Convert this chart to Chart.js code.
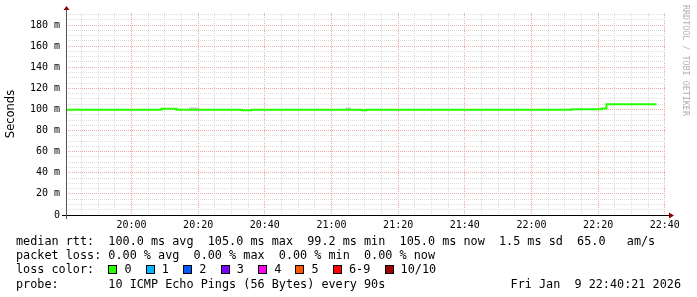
<!DOCTYPE html>
<html>
<head>
<meta charset="utf-8">
<script src="https://cdn.jsdelivr.net/npm/chart.js@4/dist/chart.umd.min.js"></script>
<style>
  html, body { margin: 0; padding: 0; background: #fff; }
  #wrap { position: relative; width: 697px; height: 297px; overflow: hidden; }
  #chart { position: absolute; left: 0; top: 0; }
  .row {
    position: absolute; left: 16px; white-space: pre;
    font-family: 'DejaVu Sans Mono', monospace; font-size: 11.8px;
    line-height: 14px; color: #000;
  }
  .box {
    display: inline-block; width: 7px; height: 7px; border: 1px solid #000;
    vertical-align: -1px;
  }
  #stamp { left: auto; right: 16px; }
  #watermark {
    position: absolute; left: 681px; top: 5px; writing-mode: vertical-rl;
    font-family: 'DejaVu Sans Mono', monospace; font-size: 8.4px;
    color: #b0b0b0; white-space: pre; line-height: 10px;
  }
</style>
</head>
<body>
<div id="wrap">
  <canvas id="chart" width="697" height="297"></canvas>
  <div id="watermark">RRDTOOL / TOBI OETIKER</div>
  <div class="row" style="top:234px">median rtt:  100.0 ms avg  105.0 ms max  99.2 ms min  105.0 ms now  1.5 ms sd  65.0   am/s</div>
  <div class="row" style="top:248px">packet loss: 0.00 % avg  0.00 % max  0.00 % min  0.00 % now</div>
  <div class="row" id="lossRow" style="top:262px"></div>
  <div class="row" style="top:277px">probe:       10 ICMP Echo Pings (56 Bytes) every 90s</div>
  <div class="row" id="stamp" style="top:277px">Fri Jan  9 22:40:21 2026</div>
</div>
<script>
// time window of the graph
const startTime = '19:40:21';
const endTime = '22:40:21';

// median rtt (ms), step changes every 90s sample
const medianTimes = ['19:40:21', '20:09:00', '20:13:30', '20:33:00', '20:36:00', '21:09:00',
                     '21:10:30', '22:12:00', '22:21:00', '22:22:30', '22:37:30'];
const medianValues = [99.7, 100.6, 99.7, 99.2, 99.7, 99.2, 99.7, 100.3, 101.0, 105.0, 105.0];

// smoke (spread of pings) poking above the median line
const smokeTimes = ['20:17:18', '20:20:18', '20:20:19', '21:04:18', '21:05:48'];
const smokeValues = [100.8, 100.8, null, 100.8, 100.8];

// y axis
const yMax = 191.4;
const yStep = 5;
const yLabelEvery = 20;
const xStep = 5;
const xLabelEvery = 20;

// loss colour legend
const lossLabels = ['0', '1', '2', '3', '4', '5', '6-9', '10/10'];
const lossColors = ['#26ff00', '#00b8ff', '#0059ff', '#7e00ff', '#ff00ea', '#ff5500', '#ff0000', '#a10000'];

function toMin(s) {
    const [h, m, sec] = s.split(':').map(Number);
    return h * 60 + m + (sec || 0) / 60;
}
function fmtTime(v) {
    const h = Math.floor(v / 60), m = Math.round(v % 60);
    return String(h).padStart(2, '0') + ':' + String(m).padStart(2, '0');
}

// loss colour row
const lossRow = document.getElementById('lossRow');
lossRow.appendChild(document.createTextNode('loss color:  '));
lossLabels.forEach((lab, i) => {
    const b = document.createElement('span');
    b.className = 'box';
    b.style.background = lossColors[i];
    lossRow.appendChild(b);
    lossRow.appendChild(document.createTextNode(' ' + lab + (i < lossLabels.length - 1 ? '  ' : '')));
});

const majorGrid = '#eeaaaa';
const minorGrid = '#dddddd';

// axis lines with arrow heads, like rrdtool
const axisArrows = {
    id: 'axisArrows',
    afterDraw(chart) {
        const { ctx } = chart;
        const { left, right, top, bottom } = chart.chartArea;
        ctx.save();
        ctx.lineWidth = 1;
        ctx.strokeStyle = '#000';
        ctx.beginPath();
        ctx.moveTo(left - 4, bottom + 0.5);
        ctx.lineTo(right + 4, bottom + 0.5);
        ctx.stroke();
        ctx.strokeStyle = '#555';
        ctx.beginPath();
        ctx.moveTo(left + 0.5, top - 4);
        ctx.lineTo(left + 0.5, bottom + 4);
        ctx.stroke();
        ctx.fillStyle = '#8b0000';
        ctx.beginPath();
        ctx.moveTo(left - 2.5, top - 3);
        ctx.lineTo(left + 3.5, top - 3);
        ctx.lineTo(left + 0.5, top - 7);
        ctx.closePath();
        ctx.fill();
        ctx.beginPath();
        ctx.moveTo(right + 3, bottom - 2.5);
        ctx.lineTo(right + 3, bottom + 3.5);
        ctx.lineTo(right + 8, bottom + 0.5);
        ctx.closePath();
        ctx.fill();
        ctx.restore();
    }
};

Chart.defaults.font.family = "'DejaVu Sans Mono', monospace";
Chart.defaults.font.size = 10;
Chart.defaults.color = '#000';

new Chart(document.getElementById('chart'), {
    type: 'line',
    data: {
        datasets: [{
            label: 'median rtt',
            data: medianTimes.map((t, i) => ({ x: toMin(t), y: medianValues[i] })),
            borderColor: '#26ff00',
            borderWidth: 2,
            pointRadius: 0,
            stepped: 'before',
            fill: false
        }, {
            label: 'smoke',
            data: smokeTimes.map((t, i) => ({ x: toMin(t), y: smokeValues[i] })),
            borderColor: '#c4c4c4',
            borderWidth: 2,
            pointRadius: 0,
            stepped: 'before',
            spanGaps: false,
            fill: false
        }]
    },
    plugins: [axisArrows],
    options: {
        responsive: false,
        animation: false,
        layout: { padding: { left: 0, top: 13, right: 31, bottom: 0 } },
        plugins: { legend: { display: false }, tooltip: { enabled: false } },
        scales: {
            x: {
                type: 'linear',
                min: toMin(startTime),
                max: toMin(endTime),
                afterFit: (scale) => { scale.height = 82; },
                afterBuildTicks: (scale) => {
                    const ticks = [];
                    for (let v = Math.ceil(scale.min / xStep) * xStep; v <= scale.max; v += xStep) {
                        ticks.push({ value: v });
                    }
                    scale.ticks = ticks;
                },
                ticks: {
                    autoSkip: false,
                    maxRotation: 0,
                    padding: 4,
                    callback: (v) => (Math.round(v) % xLabelEvery === 0 ? fmtTime(v) : '')
                },
                grid: {
                    drawTicks: false,
                    color: (c) => (c.tick && Math.round(c.tick.value) % xLabelEvery === 0 ? majorGrid : minorGrid)
                },
                border: { display: false, dash: [1, 1] }
            },
            y: {
                min: 0,
                max: yMax,
                afterFit: (scale) => { scale.width = 66; },
                afterBuildTicks: (scale) => {
                    const ticks = [];
                    for (let v = 0; v <= scale.max; v += yStep) ticks.push({ value: v });
                    scale.ticks = ticks;
                },
                ticks: {
                    autoSkip: false,
                    padding: 6,
                    callback: (v) => (v % yLabelEvery === 0 ? (v === 0 ? '0' : v + ' m') : '')
                },
                grid: {
                    drawTicks: false,
                    color: (c) => (c.tick && c.tick.value % yLabelEvery === 0 ? majorGrid : minorGrid)
                },
                border: { display: false, dash: [1, 1] },
                title: {
                    display: true,
                    text: 'Seconds',
                    font: { family: "'DejaVu Sans', sans-serif", size: 11.5 },
                    padding: { top: 4, bottom: 0 }
                }
            }
        }
    }
});
</script>
</body>
</html>
